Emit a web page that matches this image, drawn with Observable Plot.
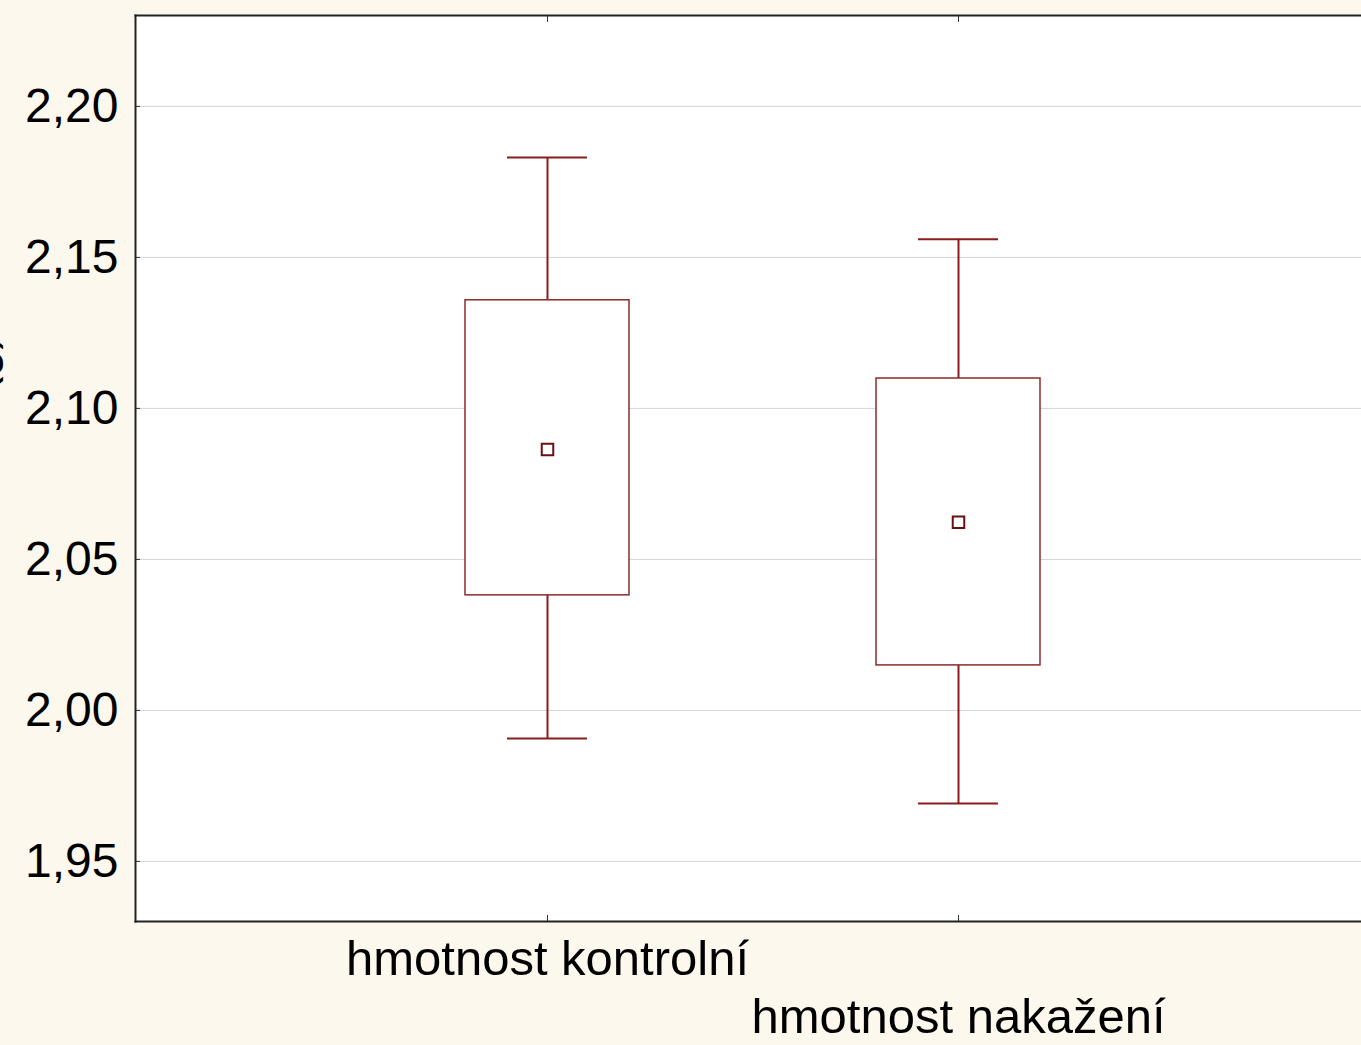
<!DOCTYPE html>
<html>
<head>
<meta charset="utf-8">
<script src="https://cdn.jsdelivr.net/npm/d3@7"></script>
<script src="https://cdn.jsdelivr.net/npm/@observablehq/plot@0.6"></script>
<style>
  html, body { margin: 0; padding: 0; background: #fcf8ee; overflow: hidden; }
  #chart svg { display: block; }
</style>
</head>
<body>
<div id="chart"></div>
<script>
const categories = ["hmotnost kontrolní", "hmotnost nakažení"];
const means = [2.0864, 2.0623];
const boxLow = [2.0381, 2.0149];
const boxHigh = [2.1358, 2.1099];
const whiskerLow = [1.9907, 1.9692];
const whiskerHigh = [2.1831, 2.1560];
const yTicks = [1.95, 2.00, 2.05, 2.10, 2.15, 2.20];
const yLabel = "hmotnost (g)";

const data = categories.map((c, i) => ({
  cat: c, mean: means[i], lo: boxLow[i], hi: boxHigh[i], wlo: whiskerLow[i], whi: whiskerHigh[i]
}));

const red = "#8c1c1c";

const chart = Plot.plot({
  width: 1361,
  height: 1045,
  marginLeft: 135,
  marginRight: 0,
  marginTop: 15,
  marginBottom: 124,
  style: { background: "transparent", fontFamily: "'Liberation Sans', Arial, sans-serif", fontSize: "49px", color: "black" },
  x: { type: "band", domain: categories, range: [135, 1370], paddingInner: 0.6017, paddingOuter: 0.8008, align: 0.5 },
  y: { domain: [1.9301, 2.2301] },
  marks: [
    Plot.frame({ fill: "white", stroke: null }),
    Plot.gridY(yTicks, { stroke: "#d4d4d4", strokeOpacity: 1, strokeWidth: 1 }),
    Plot.ruleX(data, { x: "cat", y1: "wlo", y2: "whi", stroke: red, strokeWidth: 2 }),
    Plot.tickY(data, { x: "cat", y: "whi", insetLeft: 42, insetRight: 42, stroke: red, strokeWidth: 2 }),
    Plot.tickY(data, { x: "cat", y: "wlo", insetLeft: 42, insetRight: 42, stroke: red, strokeWidth: 2 }),
    Plot.barY(data, { x: "cat", y1: "lo", y2: "hi", fill: "white", stroke: "#8e2a2a", strokeWidth: 1.5 }),
    Plot.dot(data, { x: "cat", y: "mean", symbol: "square", r: 6.5, stroke: "#6a1010", strokeWidth: 2, fill: "white" }),
    Plot.axisY(yTicks, {
      tickSize: 0, tickPadding: 17, fill: "black", fontSize: 48,
      tickFormat: d => d.toFixed(2).replace(".", ","),
      label: yLabel, labelAnchor: "center", labelOffset: 177, labelArrow: "none"
    }),
    Plot.axisY(yTicks, { tickSize: 5, dx: 5, tickFormat: () => "", label: null, stroke: "#333" }),
    Plot.axisX({ anchor: "top", tickSize: 6, dy: 6, tickFormat: () => "", label: null, stroke: "#333" }),
    Plot.axisX({ anchor: "bottom", tickSize: 6, dy: -6, tickFormat: () => "", label: null, stroke: "#333" }),
    Plot.frame({ anchor: "left", stroke: "#222", strokeWidth: 2 }),
    Plot.frame({ anchor: "top", stroke: "#222", strokeWidth: 2 }),
    Plot.frame({ anchor: "bottom", stroke: "#222", strokeWidth: 2 }),
    Plot.text([categories[0]], { x: d => d, frameAnchor: "bottom", dy: 53, fill: "black", fontSize: 49 }),
    Plot.text([categories[1]], { x: d => d, frameAnchor: "bottom", dy: 111, fill: "black", fontSize: 49 })
  ]
});

document.getElementById("chart").appendChild(chart);
</script>
</body>
</html>
